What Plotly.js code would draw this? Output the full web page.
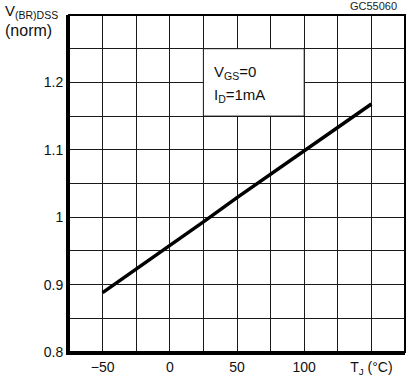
<!DOCTYPE html>
<html>
<head>
<meta charset="utf-8">
<script src="https://cdn.plot.ly/plotly-3.0.1.min.js"></script>
<style>html,body{margin:0;padding:0;background:#fff;}#chart{width:412px;height:380px;}</style>
</head>
<body>
<div id="chart"></div>
<script>
const tempC = [-50, 0, 25, 50, 75, 100, 125, 150];
const vbrNorm = [0.888, 0.957, 0.993, 1.029, 1.064, 1.099, 1.134, 1.168];
const xTickVals = [-50, 0, 50, 100, 150];
const xTickText = ['\u221250', '0', '50', '100', 'T<sub>J</sub> (\u00B0C)'];
const yTickVals = [0.8, 0.9, 1.0, 1.1, 1.2];
const yTickText = ['0.8', '0.9', '1', '1.1', '1.2'];

const font = 'Liberation Sans, Arial, sans-serif';
const gridColor = '#1a1a1a';
const PW = 336, PH = 337; // plot area size in px
function px(x) { return (x - 69) / PW; }
function py(y) { return (352 - y) / PH; }

const trace = {
  x: tempC, y: vbrNorm, type: 'scatter', mode: 'lines',
  line: {color: '#000', width: 3.5}, hoverinfo: 'skip'
};

const layout = {
  width: 412, height: 380,
  margin: {l: 69, r: 7, t: 15, b: 28},
  paper_bgcolor: '#fff', plot_bgcolor: '#fff',
  showlegend: false,
  font: {family: font, color: '#111', size: 14},
  xaxis: {
    range: [-75, 175], tickmode: 'array', tickvals: xTickVals, ticktext: xTickText,
    showgrid: true, gridcolor: gridColor, gridwidth: 1,
    minor: {dtick: 25, tick0: 0, showgrid: true, gridcolor: gridColor, gridwidth: 1},
    showline: true, linecolor: '#000', linewidth: 3, mirror: false,
    ticks: '', zeroline: false, fixedrange: true,
    tickfont: {family: font, size: 14, color: '#111'}
  },
  yaxis: {
    range: [0.8, 1.3], tickmode: 'array', tickvals: yTickVals, ticktext: yTickText,
    showgrid: true, gridcolor: gridColor, gridwidth: 1,
    minor: {dtick: 0.05, tick0: 0.8, showgrid: true, gridcolor: gridColor, gridwidth: 1},
    showline: true, linecolor: '#000', linewidth: 3, mirror: false,
    ticks: '', zeroline: false, fixedrange: true,
    tickfont: {family: font, size: 14, color: '#111'}
  },
  shapes: [
    {type: 'rect', xref: 'x', yref: 'y', x0: 25, x1: 100, y0: 1.15, y1: 1.25,
     fillcolor: '#fff', line: {color: gridColor, width: 1}, layer: 'between'},
    {type: 'rect', xref: 'paper', yref: 'paper', x0: 0, x1: 1, y0: 0, y1: 1,
     line: {color: '#000', width: 2}, fillcolor: 'rgba(0,0,0,0)', layer: 'above'}
  ],
  annotations: [
    {xref: 'paper', yref: 'paper', x: px(212), y: py(73), xanchor: 'left', yanchor: 'middle',
     text: 'V<sub>GS</sub>=0', showarrow: false, font: {family: font, size: 15, color: '#111'}},
    {xref: 'paper', yref: 'paper', x: px(212), y: py(96), xanchor: 'left', yanchor: 'middle',
     text: 'I<sub>D</sub>=1mA', showarrow: false, font: {family: font, size: 15, color: '#111'}},
    {xref: 'paper', yref: 'paper', x: px(3), y: py(11), xanchor: 'left', yanchor: 'middle',
     text: 'V<sub>(BR)DSS</sub>', showarrow: false, font: {family: font, size: 15, color: '#111'}},
    {xref: 'paper', yref: 'paper', x: px(3), y: py(31), xanchor: 'left', yanchor: 'middle',
     text: '(norm)', showarrow: false, font: {family: font, size: 16, color: '#111'}},
    {xref: 'paper', yref: 'paper', x: px(399), y: py(6), xanchor: 'right', yanchor: 'middle',
     text: 'GC55060', showarrow: false, font: {family: font, size: 11, color: '#222'}}
  ]
};

Plotly.newPlot('chart', [trace], layout, {staticPlot: true, displayModeBar: false});
</script>
</body>
</html>
